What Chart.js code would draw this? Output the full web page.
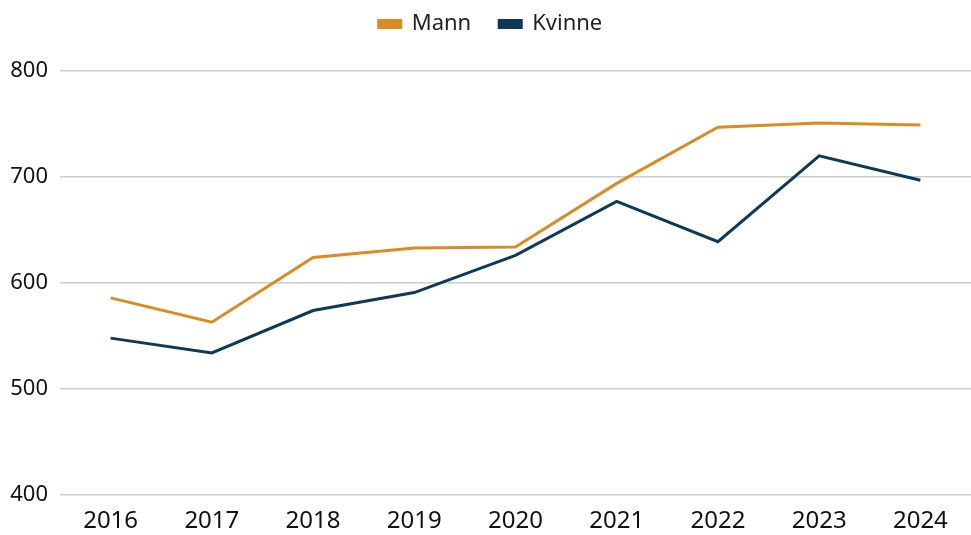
<!DOCTYPE html>
<html>
<head>
<meta charset="utf-8">
<script src="https://cdn.jsdelivr.net/npm/chart.js@4.4.1/dist/chart.umd.min.js"></script>
<style>
  html, body { margin: 0; padding: 0; background: #fff; }
  #wrap { width: 971px; height: 535px; }
</style>
</head>
<body>
<div id="wrap"><canvas id="chart"></canvas></div>
<script>
const years = ['2016', '2017', '2018', '2019', '2020', '2021', '2022', '2023', '2024'];
const mann = [586, 563, 624, 633, 634, 694, 747, 751, 749];
const kvinne = [548, 534, 574, 591, 626, 677, 639, 720, 697];
const yTicks = [400, 500, 600, 700, 800];

Chart.defaults.font.family = '"Noto Sans", "Open Sans", sans-serif';
Chart.defaults.color = '#1a1a1a';

// legend reserves 71px above the plot, but its items are drawn higher up
const legendBox = {
    id: 'legendBox',
    beforeInit(chart) {
        const fit = chart.legend.fit;
        chart.legend.fit = function () {
            fit.call(this);
            this.height = 71;
        };
    },
    afterLayout(chart) {
        chart.legend.top -= 15;
        chart.legend.bottom -= 15;
    }
};

new Chart(document.getElementById('chart'), {
    type: 'line',
    data: {
        labels: years,
        datasets: [
            { label: 'Mann', data: mann, borderColor: '#DA8C23', backgroundColor: '#DA8C23', borderWidth: 3, pointRadius: 0, tension: 0 },
            { label: 'Kvinne', data: kvinne, borderColor: '#0C3A57', backgroundColor: '#0C3A57', borderWidth: 3, pointRadius: 0, tension: 0 }
        ]
    },
    options: {
        responsive: true,
        maintainAspectRatio: false,
        animation: false,
        layout: { padding: { left: 10, right: 0, top: 0, bottom: 0 } },
        plugins: {
            legend: {
                labels: { boxWidth: 22, boxHeight: 7, padding: 28, font: { size: 22 }, color: '#222' }
            },
            tooltip: { enabled: false }
        },
        scales: {
            x: {
                offset: true,
                afterFit: (axis) => { axis.height = 40; },
                grid: { display: false, drawTicks: false },
                border: { display: false },
                ticks: { font: { size: 24 }, padding: 12, color: '#111' }
            },
            y: {
                min: yTicks[0],
                max: yTicks[yTicks.length - 1],
                afterBuildTicks: (axis) => { axis.ticks = yTicks.map(v => ({ value: v })); },
                afterFit: (axis) => { axis.width = 50; },
                grid: { color: '#cccccc', lineWidth: 1.5, drawTicks: false },
                border: { display: false },
                ticks: { font: { size: 22 }, padding: 12, color: '#111' }
            }
        }
    },
    plugins: [legendBox]
});
</script>
</body>
</html>
